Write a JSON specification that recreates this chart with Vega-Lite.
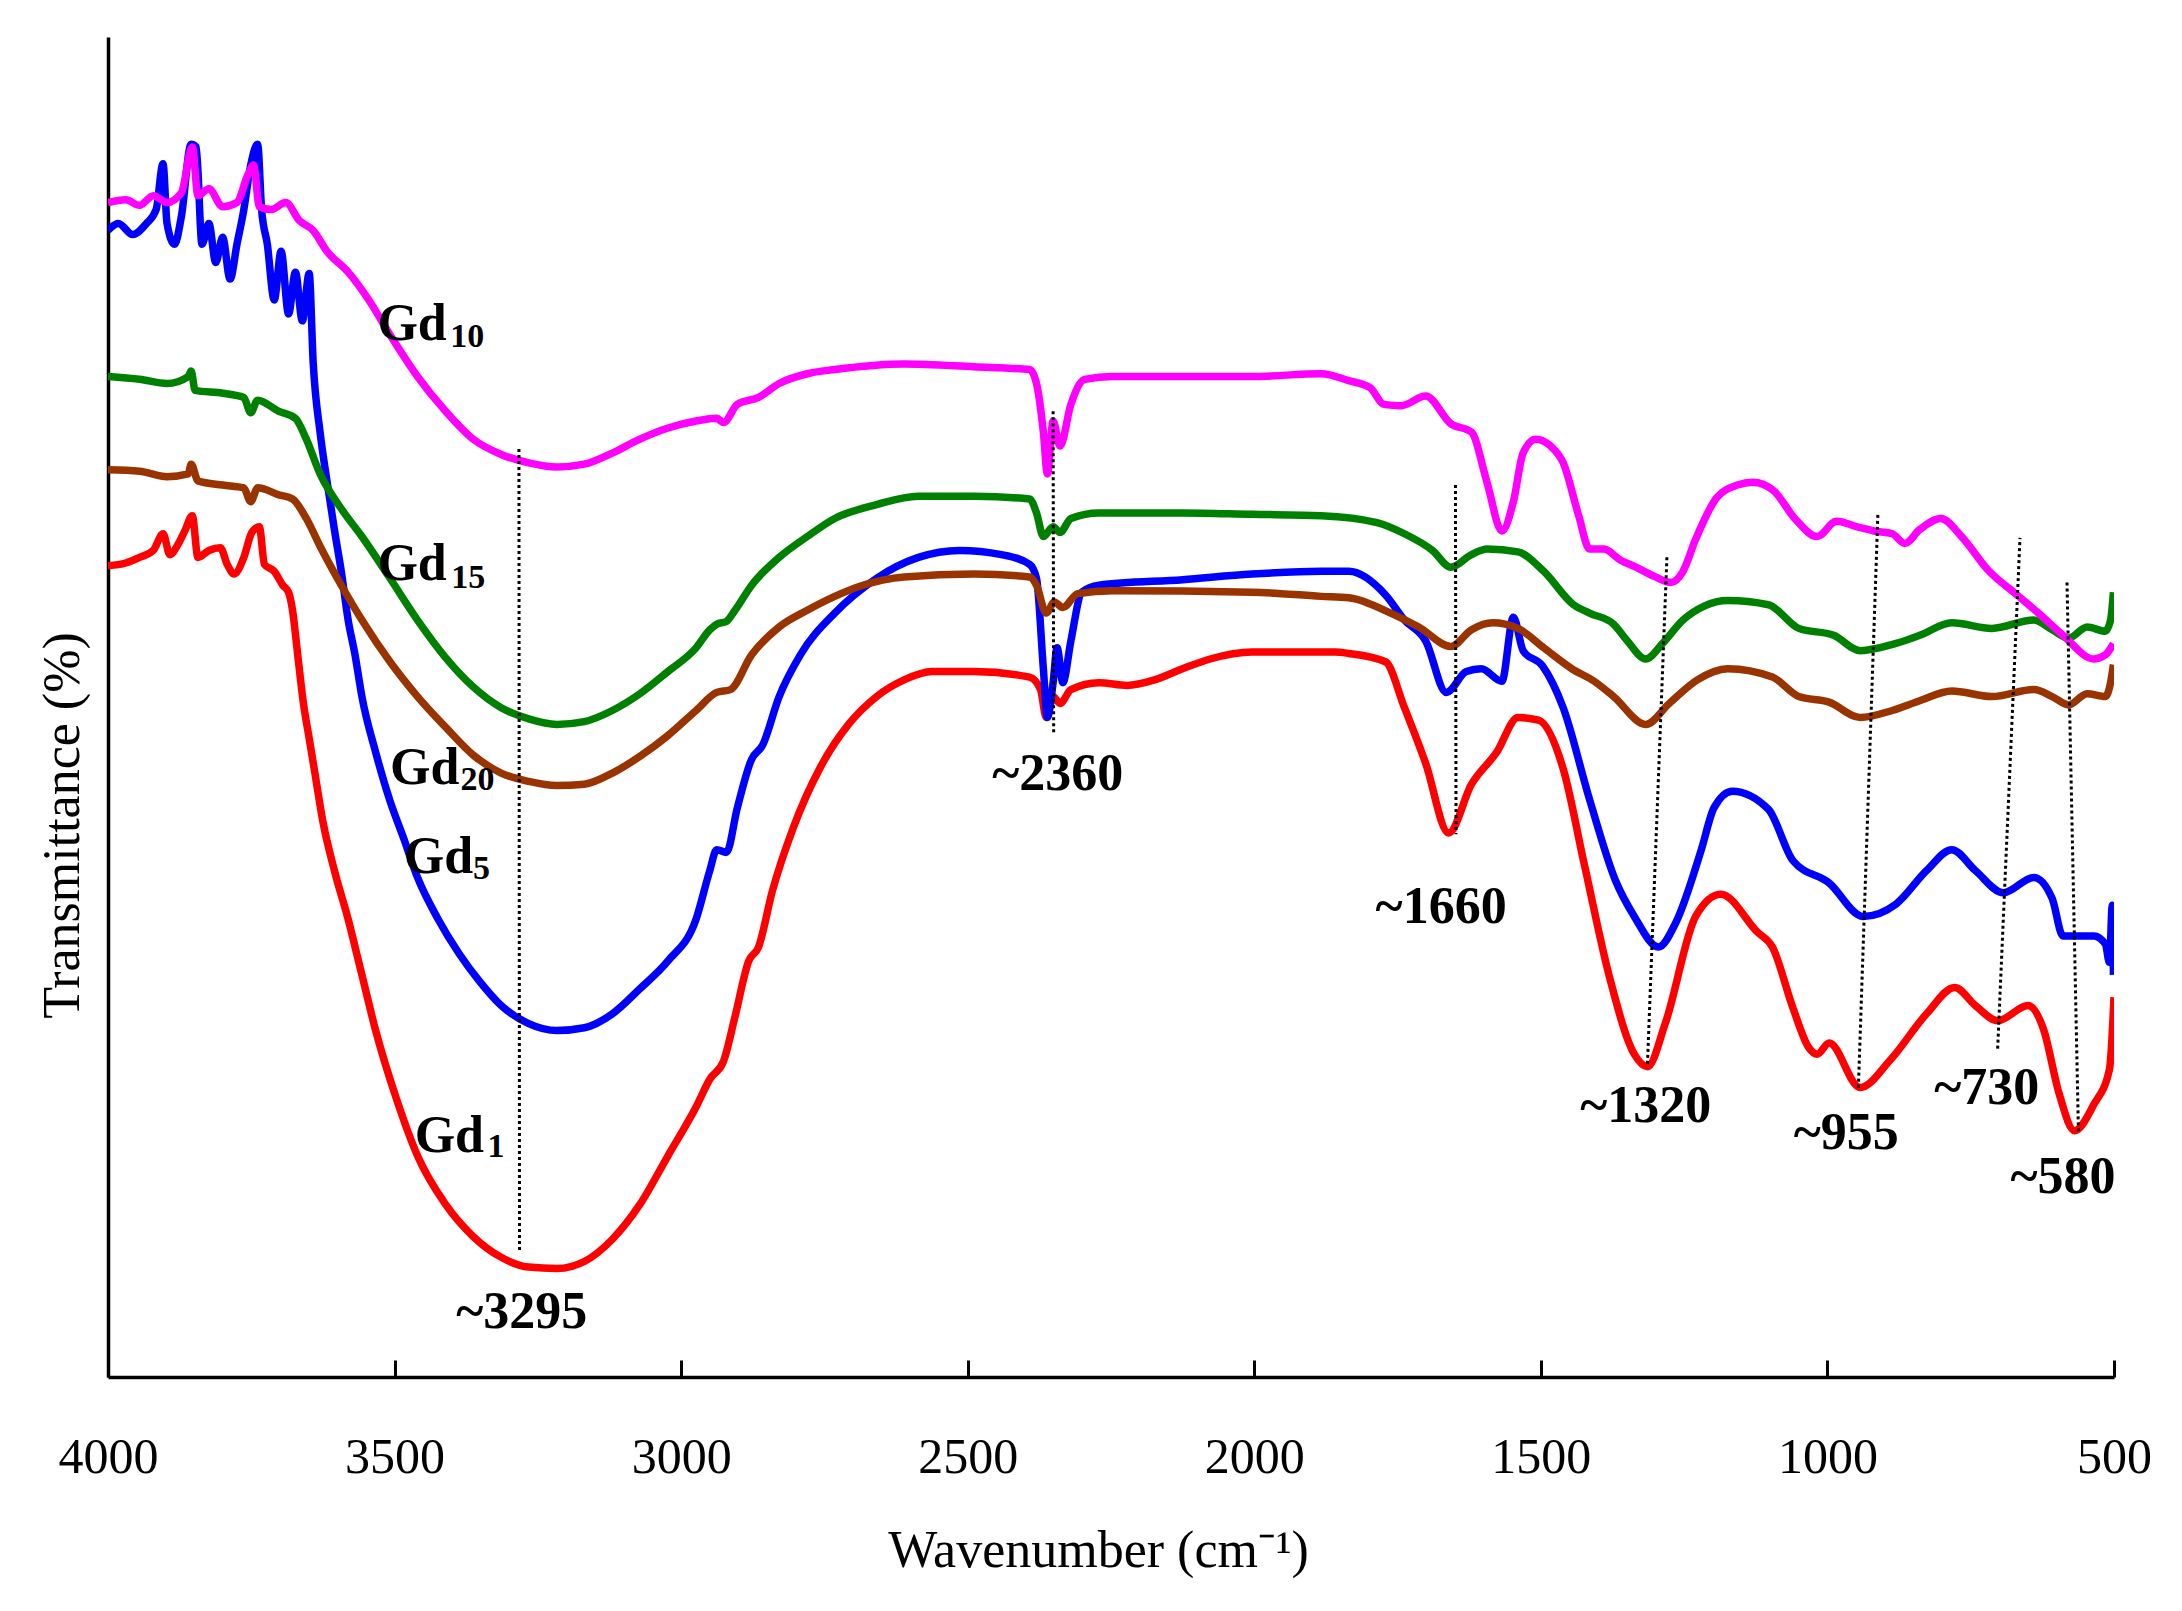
{
"$schema":"https://vega.github.io/schema/vega-lite/v6.json",
"width":2006,"height":1340,
"autosize":{"type":"none"},
"padding":{"left":108,"top":37,"right":68,"bottom":234},
"background":"white",
"config":{"view":{"stroke":null},"font":"Liberation Serif"},
"encoding":{
 "x":{"field":"w","type":"quantitative","scale":{"domain":[500,4000],"reverse":true,"nice":false,"zero":false},
  "axis":{"values":[4000,3500,3000,2500,2000,1500,1000,500],"format":"d","grid":false,"domainColor":"black","domainWidth":3.5,"tickColor":"black","tickWidth":3,"tickSize":-17,"labelFont":"Liberation Serif","labelFontSize":50,"labelColor":"black","labelBaseline":"alphabetic","labelPadding":112,"labelFlush":false,"labelOverlap":false,"labelBound":false,"title":"Wavenumber (cm⁻¹)","titleFont":"Liberation Serif","titleFontSize":52,"titleFontWeight":"normal","titleColor":"black","titleBaseline":"alphabetic","titleAlign":"center","titleX":990,"titleY":189}},
 "y":{"field":"t","type":"quantitative","scale":{"domain":[0,96.3],"nice":false,"zero":false},
  "axis":{"grid":false,"ticks":false,"labels":false,"domainColor":"black","domainWidth":3.5,"title":"Transmittance (%)","titleFont":"Liberation Serif","titleFontSize":52,"titleFontWeight":"normal","titleColor":"black","titleBaseline":"alphabetic","titleAlign":"center","titleAngle":-90,"titleX":-30,"titleY":788}}
},
"layer":[
{"data":{"values":[{"w":3500},{"w":3000},{"w":2500},{"w":2000},{"w":1500},{"w":1000},{"w":500}]},
 "mark":{"type":"rule","color":"black","strokeWidth":3},
 "encoding":{"y":{"datum":0},"y2":{"datum":1.22}}},
{"data":{"values":[
{"w":4000,"t":58.3},{"w":3969,"t":58.5},{"w":3945,"t":58.9},{"w":3921,"t":59.4},{"w":3904,"t":60.6},{"w":3892,"t":59.1},{"w":3877,"t":59.9},{"w":3865,"t":60.9},{"w":3853,"t":61.9},{"w":3843,"t":58.9},{"w":3824,"t":59.4},{"w":3804,"t":59.6},{"w":3792,"t":58.4},{"w":3780,"t":57.7},{"w":3763,"t":58.9},{"w":3749,"t":60.7},{"w":3736,"t":61.1},{"w":3727,"t":58.4},{"w":3710,"t":57.9},{"w":3695,"t":56.9},{"w":3685,"t":56.4},{"w":3678,"t":55.1},{"w":3669,"t":51.9},{"w":3659,"t":48.4},{"w":3649,"t":45.9},{"w":3639,"t":43.4},{"w":3625,"t":39.9},{"w":3605,"t":36.4},{"w":3581,"t":32.9},{"w":3557,"t":28.9},{"w":3533,"t":24.9},{"w":3496,"t":19.9},{"w":3460,"t":15.9},{"w":3411,"t":12.4},{"w":3363,"t":10.1},{"w":3314,"t":8.6},{"w":3266,"t":7.9},{"w":3217,"t":7.8},{"w":3169,"t":8.3},{"w":3120,"t":9.9},{"w":3072,"t":12.4},{"w":3023,"t":15.9},{"w":2974,"t":19.4},{"w":2950,"t":21.4},{"w":2926,"t":22.7},{"w":2906,"t":25.9},{"w":2882,"t":29.9},{"w":2865,"t":30.9},{"w":2841,"t":34.9},{"w":2805,"t":39.4},{"w":2756,"t":43.9},{"w":2708,"t":46.9},{"w":2659,"t":48.9},{"w":2611,"t":50.1},{"w":2562,"t":50.7},{"w":2489,"t":50.7},{"w":2392,"t":50.3},{"w":2373,"t":49.4},{"w":2363,"t":47.4},{"w":2351,"t":48.9},{"w":2339,"t":48.4},{"w":2320,"t":49.4},{"w":2271,"t":49.9},{"w":2222,"t":49.7},{"w":2174,"t":50.1},{"w":2125,"t":50.9},{"w":2077,"t":51.6},{"w":2004,"t":52.1},{"w":1931,"t":52.1},{"w":1859,"t":52.1},{"w":1835,"t":52.0},{"w":1771,"t":51.4},{"w":1738,"t":48.1},{"w":1701,"t":44.1},{"w":1661,"t":39.1},{"w":1621,"t":42.6},{"w":1577,"t":44.9},{"w":1540,"t":47.4},{"w":1504,"t":47.2},{"w":1461,"t":43.7},{"w":1424,"t":36.8},{"w":1380,"t":28.7},{"w":1337,"t":23.2},{"w":1314,"t":22.3},{"w":1283,"t":25.4},{"w":1230,"t":33.1},{"w":1186,"t":34.7},{"w":1123,"t":32.0},{"w":1096,"t":30.9},{"w":1060,"t":26.5},{"w":1033,"t":23.7},{"w":1018,"t":23.2},{"w":997,"t":24.0},{"w":943,"t":20.8},{"w":890,"t":22.8},{"w":827,"t":26.1},{"w":778,"t":28.0},{"w":742,"t":26.7},{"w":703,"t":25.6},{"w":650,"t":26.7},{"w":623,"t":25.0},{"w":596,"t":20.4},{"w":569,"t":17.7},{"w":535,"t":19.6},{"w":508,"t":22.1},{"w":501,"t":26.4},{"w":500,"t":27.3}
]},"mark":{"type":"line","color":"#FF0000","strokeWidth":7.5,"strokeJoin":"round","interpolate":"monotone","clip":true},"encoding":{}},
{"data":{"values":[
{"w":4000,"t":82.4},{"w":3982,"t":82.9},{"w":3957,"t":82.1},{"w":3933,"t":82.9},{"w":3916,"t":83.9},{"w":3904,"t":87.2},{"w":3897,"t":82.9},{"w":3884,"t":81.4},{"w":3872,"t":83.4},{"w":3855,"t":88.6},{"w":3846,"t":88.4},{"w":3836,"t":81.4},{"w":3824,"t":82.9},{"w":3812,"t":80.1},{"w":3800,"t":81.9},{"w":3787,"t":78.9},{"w":3775,"t":81.4},{"w":3763,"t":83.9},{"w":3751,"t":87.1},{"w":3739,"t":88.6},{"w":3732,"t":83.9},{"w":3722,"t":81.4},{"w":3710,"t":77.4},{"w":3698,"t":80.9},{"w":3685,"t":76.4},{"w":3673,"t":79.4},{"w":3661,"t":75.9},{"w":3649,"t":79.3},{"w":3642,"t":72.9},{"w":3630,"t":67.9},{"w":3618,"t":64.4},{"w":3605,"t":60.9},{"w":3593,"t":57.9},{"w":3581,"t":54.4},{"w":3569,"t":51.9},{"w":3557,"t":48.9},{"w":3533,"t":44.9},{"w":3508,"t":41.4},{"w":3484,"t":38.7},{"w":3460,"t":35.9},{"w":3424,"t":32.9},{"w":3387,"t":30.4},{"w":3351,"t":28.4},{"w":3314,"t":26.7},{"w":3266,"t":25.4},{"w":3217,"t":24.9},{"w":3169,"t":25.1},{"w":3120,"t":26.1},{"w":3072,"t":27.9},{"w":3023,"t":29.9},{"w":2974,"t":32.9},{"w":2950,"t":36.4},{"w":2938,"t":37.9},{"w":2921,"t":37.7},{"w":2902,"t":40.9},{"w":2877,"t":44.4},{"w":2858,"t":45.4},{"w":2829,"t":48.9},{"w":2792,"t":51.9},{"w":2732,"t":54.9},{"w":2659,"t":57.4},{"w":2586,"t":58.9},{"w":2514,"t":59.4},{"w":2441,"t":59.1},{"w":2392,"t":58.4},{"w":2380,"t":57.4},{"w":2368,"t":50.9},{"w":2361,"t":47.4},{"w":2351,"t":49.9},{"w":2344,"t":52.4},{"w":2334,"t":49.9},{"w":2320,"t":52.9},{"w":2301,"t":56.4},{"w":2271,"t":56.9},{"w":2125,"t":57.3},{"w":2004,"t":57.7},{"w":1883,"t":57.9},{"w":1835,"t":57.9},{"w":1771,"t":56.2},{"w":1738,"t":54.4},{"w":1701,"t":52.9},{"w":1665,"t":49.2},{"w":1630,"t":50.7},{"w":1604,"t":50.9},{"w":1568,"t":50.0},{"w":1548,"t":54.6},{"w":1531,"t":52.2},{"w":1497,"t":51.1},{"w":1461,"t":48.1},{"w":1415,"t":41.5},{"w":1370,"t":35.7},{"w":1337,"t":33.1},{"w":1295,"t":30.9},{"w":1264,"t":32.7},{"w":1220,"t":37.9},{"w":1198,"t":40.9},{"w":1166,"t":42.1},{"w":1103,"t":40.8},{"w":1060,"t":37.1},{"w":997,"t":35.5},{"w":938,"t":33.1},{"w":880,"t":34.0},{"w":827,"t":36.4},{"w":783,"t":37.9},{"w":742,"t":36.4},{"w":693,"t":34.8},{"w":640,"t":35.9},{"w":608,"t":34.4},{"w":589,"t":31.7},{"w":535,"t":31.7},{"w":515,"t":31.1},{"w":508,"t":29.8},{"w":503,"t":33.9},{"w":501,"t":28.9}
]},"mark":{"type":"line","color":"#0000FF","strokeWidth":7.5,"strokeJoin":"round","interpolate":"monotone","clip":true},"encoding":{}},
{"data":{"values":[
{"w":4000,"t":65.2},{"w":3945,"t":65.1},{"w":3897,"t":64.7},{"w":3860,"t":64.9},{"w":3855,"t":65.6},{"w":3843,"t":64.4},{"w":3800,"t":64.1},{"w":3763,"t":63.9},{"w":3751,"t":62.9},{"w":3739,"t":63.9},{"w":3702,"t":63.4},{"w":3678,"t":63.1},{"w":3654,"t":61.7},{"w":3630,"t":59.7},{"w":3593,"t":56.9},{"w":3557,"t":54.4},{"w":3508,"t":51.4},{"w":3460,"t":48.9},{"w":3411,"t":46.7},{"w":3363,"t":44.7},{"w":3314,"t":43.4},{"w":3266,"t":42.8},{"w":3217,"t":42.5},{"w":3169,"t":42.6},{"w":3120,"t":43.4},{"w":3072,"t":44.6},{"w":3023,"t":46.1},{"w":2974,"t":47.9},{"w":2938,"t":49.2},{"w":2914,"t":49.4},{"w":2877,"t":51.9},{"w":2829,"t":53.9},{"w":2780,"t":55.1},{"w":2732,"t":56.1},{"w":2683,"t":56.9},{"w":2611,"t":57.5},{"w":2489,"t":57.7},{"w":2392,"t":57.5},{"w":2380,"t":56.9},{"w":2363,"t":54.9},{"w":2349,"t":55.7},{"w":2334,"t":55.3},{"w":2308,"t":56.3},{"w":2247,"t":56.5},{"w":2004,"t":56.4},{"w":1883,"t":56.1},{"w":1835,"t":56.0},{"w":1762,"t":54.9},{"w":1713,"t":53.9},{"w":1657,"t":52.5},{"w":1621,"t":53.7},{"w":1584,"t":54.2},{"w":1540,"t":53.8},{"w":1495,"t":52.4},{"w":1446,"t":50.9},{"w":1407,"t":50.0},{"w":1373,"t":48.9},{"w":1317,"t":46.9},{"w":1276,"t":48.4},{"w":1227,"t":50.1},{"w":1174,"t":50.9},{"w":1096,"t":50.3},{"w":1050,"t":48.9},{"w":997,"t":48.5},{"w":943,"t":47.4},{"w":887,"t":47.9},{"w":839,"t":48.6},{"w":783,"t":49.3},{"w":713,"t":48.9},{"w":640,"t":49.4},{"w":608,"t":48.9},{"w":579,"t":48.3},{"w":547,"t":49.1},{"w":515,"t":48.9},{"w":506,"t":49.9},{"w":501,"t":51.2}
]},"mark":{"type":"line","color":"#993300","strokeWidth":7.5,"strokeJoin":"round","interpolate":"monotone","clip":true},"encoding":{}},
{"data":{"values":[
{"w":4000,"t":71.9},{"w":3945,"t":71.7},{"w":3897,"t":71.4},{"w":3860,"t":71.9},{"w":3855,"t":72.3},{"w":3848,"t":70.9},{"w":3800,"t":70.7},{"w":3763,"t":70.4},{"w":3751,"t":69.3},{"w":3739,"t":70.2},{"w":3702,"t":69.4},{"w":3673,"t":68.9},{"w":3654,"t":67.4},{"w":3630,"t":64.9},{"w":3593,"t":62.4},{"w":3557,"t":60.4},{"w":3508,"t":57.4},{"w":3460,"t":54.4},{"w":3411,"t":51.7},{"w":3363,"t":49.6},{"w":3314,"t":48.1},{"w":3266,"t":47.3},{"w":3217,"t":46.9},{"w":3169,"t":47.1},{"w":3120,"t":47.9},{"w":3072,"t":49.1},{"w":3023,"t":50.7},{"w":2974,"t":52.4},{"w":2950,"t":53.7},{"w":2938,"t":54.1},{"w":2921,"t":54.3},{"w":2906,"t":55.1},{"w":2877,"t":56.9},{"w":2829,"t":58.9},{"w":2780,"t":60.4},{"w":2732,"t":61.7},{"w":2659,"t":62.7},{"w":2586,"t":63.3},{"w":2489,"t":63.3},{"w":2392,"t":63.1},{"w":2380,"t":62.1},{"w":2368,"t":60.4},{"w":2351,"t":61.1},{"w":2339,"t":60.7},{"w":2320,"t":61.7},{"w":2271,"t":62.1},{"w":2125,"t":62.1},{"w":2004,"t":62.0},{"w":1883,"t":61.9},{"w":1786,"t":61.4},{"w":1738,"t":60.6},{"w":1689,"t":59.4},{"w":1657,"t":58.2},{"w":1621,"t":59.1},{"w":1594,"t":59.5},{"w":1540,"t":59.3},{"w":1495,"t":57.9},{"w":1443,"t":55.5},{"w":1415,"t":54.9},{"w":1373,"t":54.1},{"w":1349,"t":52.9},{"w":1317,"t":51.6},{"w":1288,"t":52.7},{"w":1252,"t":54.4},{"w":1215,"t":55.4},{"w":1174,"t":55.8},{"w":1103,"t":55.5},{"w":1050,"t":53.8},{"w":989,"t":53.3},{"w":943,"t":52.2},{"w":882,"t":52.7},{"w":839,"t":53.3},{"w":783,"t":54.2},{"w":713,"t":53.8},{"w":640,"t":54.4},{"w":608,"t":53.7},{"w":579,"t":53.1},{"w":547,"t":53.9},{"w":515,"t":53.6},{"w":506,"t":54.4},{"w":501,"t":56.4}
]},"mark":{"type":"line","color":"#008000","strokeWidth":7.5,"strokeJoin":"round","interpolate":"monotone","clip":true},"encoding":{}},
{"data":{"values":[
{"w":4000,"t":84.4},{"w":3969,"t":84.6},{"w":3945,"t":84.2},{"w":3921,"t":84.9},{"w":3897,"t":84.4},{"w":3872,"t":85.1},{"w":3853,"t":88.4},{"w":3843,"t":84.9},{"w":3824,"t":85.4},{"w":3800,"t":84.1},{"w":3775,"t":84.4},{"w":3756,"t":86.4},{"w":3746,"t":87.1},{"w":3736,"t":84.1},{"w":3715,"t":83.9},{"w":3690,"t":84.4},{"w":3666,"t":83.1},{"w":3642,"t":82.4},{"w":3618,"t":80.9},{"w":3581,"t":79.4},{"w":3545,"t":77.4},{"w":3508,"t":74.9},{"w":3460,"t":71.9},{"w":3411,"t":69.4},{"w":3363,"t":67.4},{"w":3314,"t":66.3},{"w":3266,"t":65.7},{"w":3217,"t":65.4},{"w":3169,"t":65.6},{"w":3120,"t":66.4},{"w":3072,"t":67.4},{"w":3023,"t":68.2},{"w":2974,"t":68.7},{"w":2938,"t":68.9},{"w":2926,"t":68.6},{"w":2902,"t":69.9},{"w":2865,"t":70.4},{"w":2829,"t":71.4},{"w":2780,"t":72.1},{"w":2732,"t":72.4},{"w":2611,"t":72.8},{"w":2489,"t":72.6},{"w":2392,"t":72.4},{"w":2380,"t":71.4},{"w":2368,"t":67.9},{"w":2361,"t":64.9},{"w":2351,"t":68.7},{"w":2339,"t":66.9},{"w":2320,"t":69.9},{"w":2296,"t":71.7},{"w":2247,"t":71.9},{"w":2125,"t":71.9},{"w":2004,"t":71.9},{"w":1883,"t":72.1},{"w":1835,"t":71.6},{"w":1798,"t":71.1},{"w":1774,"t":69.9},{"w":1744,"t":69.8},{"w":1701,"t":70.5},{"w":1657,"t":68.5},{"w":1621,"t":67.9},{"w":1594,"t":64.3},{"w":1568,"t":60.8},{"w":1548,"t":62.9},{"w":1531,"t":66.4},{"w":1509,"t":67.4},{"w":1483,"t":66.9},{"w":1461,"t":65.7},{"w":1434,"t":61.9},{"w":1415,"t":59.5},{"w":1390,"t":59.5},{"w":1361,"t":58.7},{"w":1334,"t":58.2},{"w":1300,"t":57.5},{"w":1273,"t":57.1},{"w":1252,"t":57.9},{"w":1230,"t":60.2},{"w":1193,"t":63.2},{"w":1157,"t":64.1},{"w":1130,"t":64.3},{"w":1094,"t":63.7},{"w":1057,"t":61.7},{"w":1018,"t":60.4},{"w":984,"t":61.5},{"w":948,"t":61.1},{"w":919,"t":60.8},{"w":887,"t":60.6},{"w":865,"t":59.9},{"w":839,"t":60.9},{"w":802,"t":61.7},{"w":766,"t":60.4},{"w":720,"t":58.0},{"w":669,"t":56.2},{"w":632,"t":54.9},{"w":589,"t":53.3},{"w":535,"t":51.6},{"w":515,"t":51.9},{"w":501,"t":52.7}
]},"mark":{"type":"line","color":"#FF00FF","strokeWidth":7.5,"strokeJoin":"round","interpolate":"monotone","clip":true},"encoding":{}},
{"data":{"values":[
{"peak":"3295","w":3283,"t":66.7},{"peak":"3295","w":3282,"t":9.0},
{"peak":"2360","w":2351,"t":69.4},{"peak":"2360","w":2350,"t":46.2},
{"peak":"1660","w":1649,"t":64.1},{"peak":"1660","w":1648,"t":39.0},
{"peak":"1320","w":1280,"t":59.0},{"peak":"1320","w":1314,"t":22.5},
{"peak":"955","w":912,"t":62.0},{"peak":"955","w":946,"t":20.8},
{"peak":"730","w":664,"t":60.3},{"peak":"730","w":703,"t":23.6},
{"peak":"580","w":582,"t":57.1},{"peak":"580","w":562,"t":17.5}
]},"mark":{"type":"line","color":"black","strokeWidth":3,"strokeDash":[3,3]},"encoding":{"detail":{"field":"peak","type":"nominal"}}},
{"data":{"values":[
{"label":"~3295","w":3278,"t":3.5},{"label":"~2360","w":2343,"t":42.2},{"label":"~1660","w":1674,"t":32.6},{"label":"~1320","w":1317,"t":18.3},{"label":"~955","w":967,"t":16.4},{"label":"~730","w":722,"t":19.6},{"label":"~580","w":589,"t":13.2}
]},"mark":{"type":"text","font":"Liberation Serif","fontWeight":"bold","fontSize":52,"color":"black","align":"center","baseline":"alphabetic"},"encoding":{"text":{"field":"label"}}},
{"data":{"values":[
{"label":"Gd","w":3530,"t":74.5},{"label":"Gd","w":3530,"t":57.3},{"label":"Gd","w":3508,"t":42.6},{"label":"Gd","w":3484,"t":36.2},{"label":"Gd","w":3465,"t":16.2}
]},"mark":{"type":"text","font":"Liberation Serif","fontWeight":"bold","fontSize":52,"color":"black","align":"left","baseline":"alphabetic"},"encoding":{"text":{"field":"label"}}},
{"data":{"values":[
{"label":"10","w":3403,"t":74.0},{"label":"15","w":3401,"t":56.7},{"label":"20","w":3385,"t":42.2},{"label":"5","w":3363,"t":35.8},{"label":"1","w":3338,"t":15.8}
]},"mark":{"type":"text","font":"Liberation Serif","fontWeight":"bold","fontSize":34,"color":"black","align":"left","baseline":"alphabetic"},"encoding":{"text":{"field":"label"}}}
]
}
